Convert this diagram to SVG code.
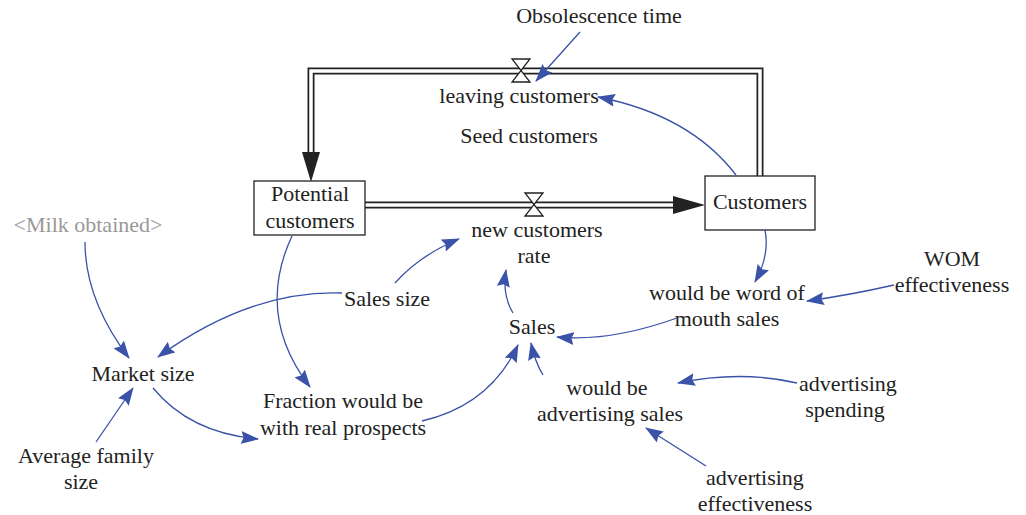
<svg xmlns="http://www.w3.org/2000/svg" width="1026" height="515" viewBox="0 0 1026 515">
<defs>
<marker id="ah" viewBox="0 0 18 13" refX="17" refY="6.5" markerWidth="18" markerHeight="13" markerUnits="userSpaceOnUse" orient="auto">
<path d="M0,0 L18,6.5 L0,13 L2.5,6.5 Z" fill="#3a52a8"/>
</marker>
</defs>
<style>
text{font-family:"Times New Roman","Liberation Serif",Times,serif;font-size:22px;fill:#222;text-anchor:middle}
.grey{fill:#999}
.link{fill:none;stroke:#3a52a8;stroke-width:1.3;marker-end:url(#ah)}
.box{fill:#fff;stroke:#222;stroke-width:1.3}
.pipeo{fill:none;stroke:#222;stroke-width:7;stroke-linejoin:miter}
.pipei{fill:none;stroke:#fff;stroke-width:3.5;stroke-linejoin:miter}
.valve{fill:#fff;stroke:#222;stroke-width:1.3}
</style>
<rect width="1026" height="515" fill="#fff"/>
<g id="flows">
<path class="pipeo" d="M760,176 V71 H311 V156"/>
<path class="pipei" d="M760,176 V71 H311 V158"/>
<polygon points="302,152 320,152 311,182" fill="#222"/>
<path class="pipeo" d="M365,205 H676"/>
<path class="pipei" d="M365,205 H678"/>
<polygon points="673,196 705,205 673,214" fill="#222"/>
</g>
<g id="valve-leaving"><path class="valve" d="M512,59 H530 L512,82 H530 Z"/></g>
<g id="valve-new"><path class="valve" d="M525,193 H543 L525,216 H543 Z"/></g>
<g id="potential-customers"><rect class="box" x="254" y="181" width="111" height="54"/><text x="310" y="201">Potential</text><text x="310" y="228">customers</text></g>
<g id="customers"><rect class="box" x="705" y="176" width="110" height="54"/><text x="760" y="209">Customers</text></g>
<g id="obsolescence-time"><text x="599" y="23">Obsolescence time</text></g>
<g id="leaving-customers"><text x="519" y="103">leaving customers</text></g>
<g id="seed-customers"><text x="529" y="143">Seed customers</text></g>
<g id="new-customers-rate"><text x="537" y="237">new customers</text><text x="534" y="263">rate</text></g>
<g id="milk-obtained"><text class="grey" x="88" y="232">&lt;Milk obtained&gt;</text></g>
<g id="sales-size"><text x="387" y="306">Sales size</text></g>
<g id="market-size"><text x="143" y="381">Market size</text></g>
<g id="fraction"><text x="343" y="408">Fraction would be</text><text x="343" y="435">with real prospects</text></g>
<g id="average-family-size"><text x="86" y="463">Average family</text><text x="81" y="489">size</text></g>
<g id="sales"><text x="532" y="334">Sales</text></g>
<g id="word-of-mouth"><text x="727" y="300">would be word of</text><text x="727" y="326">mouth sales</text></g>
<g id="wom-effectiveness"><text x="952" y="266">WOM</text><text x="952" y="292">effectiveness</text></g>
<g id="advertising-sales"><text x="607" y="395">would be</text><text x="610" y="421">advertising sales</text></g>
<g id="advertising-spending"><text x="848" y="391">advertising</text><text x="845" y="417">spending</text></g>
<g id="advertising-effectiveness"><text x="755" y="485">advertising</text><text x="755" y="511">effectiveness</text></g>
<g id="connectors">
<path class="link" d="M580,32 L536,81"/>
<path class="link" d="M736,175 Q690,115 598,97"/>
<path class="link" d="M85,242 Q85,300 129,358"/>
<path class="link" d="M342,293 Q250,290 158,357"/>
<path class="link" d="M395,283 Q420,255 459,239"/>
<path class="link" d="M292,236 Q255,315 310,387"/>
<path class="link" d="M153,388 Q190,433 258,439"/>
<path class="link" d="M96,442 L133,388"/>
<path class="link" d="M422,421 Q490,405 518,345"/>
<path class="link" d="M513,313 Q502,295 506,270"/>
<path class="link" d="M765,230 Q770,255 755,282"/>
<path class="link" d="M894,285 Q850,295 807,301"/>
<path class="link" d="M677,318 Q610,342 557,337"/>
<path class="link" d="M543,375 Q535,362 531,343"/>
<path class="link" d="M797,383 Q740,370 678,383"/>
<path class="link" d="M706,466 L646,428"/>
</g>
</svg>
